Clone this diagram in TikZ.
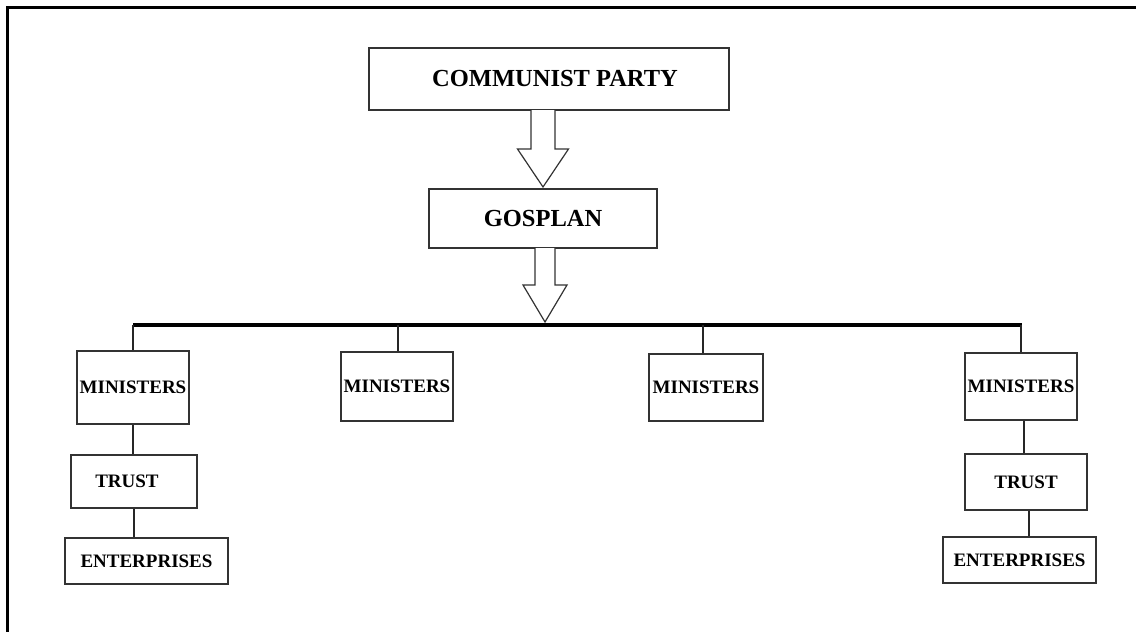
\documentclass[tikz,border=0pt]{standalone}
\usepackage{fontspec}
\setmainfont{Liberation Serif}
\usetikzlibrary{calc}
\tikzset{
  box/.style={draw=black!80, line width=1.3pt, fill=white, inner sep=0pt, font=\bfseries\fontsize{19}{21}\selectfont},
  bigbox/.style={box, font=\bfseries\fontsize{24.5}{27}\selectfont},
  link/.style={draw=black!85, line width=1.4pt},
  bar/.style={draw=black, line width=4pt},
  frame/.style={draw=black, line width=3pt},
  blockarrow/.style={draw=black!80, line width=1.2pt, fill=white, line join=miter}
}
\newcommand\blkarrow[5]{% start, tip, half shaft, half head, head length
  \path[blockarrow] ($(#1)+(-#3,0)$) -- ($(#2)+(-#3,-#5)$) -- ($(#2)+(-#4,-#5)$) -- (#2)
    -- ($(#2)+(#4,-#5)$) -- ($(#2)+(#3,-#5)$) -- ($(#1)+(#3,0)$);
}
\begin{document}
\begin{tikzpicture}[x=1pt,y=-1pt]
\useasboundingbox (0,0) rectangle (1136,632);
% frame (left and top edges)
\coordinate (fBL) at (7,632);
\coordinate (fTL) at (7,7);
\coordinate (fTR) at (1136,7);
\draw[frame] (fBL) -- (fTL) -- (fTR);

% top boxes
\node[bigbox, minimum width=360pt, minimum height=62pt] (cp) at (549,79) {\kern12pt COMMUNIST PARTY};
\node[bigbox, minimum width=228pt, minimum height=59pt] (gos) at (543,218.5) {GOSPLAN};

% bar
\coordinate (barL) at (133,325);
\coordinate (barR) at (1022,325);

% block arrows
\coordinate (a1s) at (543,110);
\coordinate (a1t) at (543,187);
\coordinate (a2s) at (545,248);
\coordinate (a2t) at (545,322);
\blkarrow{a1s}{a1t}{12}{25.5}{38}
\blkarrow{a2s}{a2t}{10}{22}{37}

\draw[bar] (barL) -- (barR);

% ministers
\node[box, minimum width=112pt, minimum height=73pt] (m1) at (133,387.5) {MINISTERS};
\node[box, minimum width=112pt, minimum height=69pt] (m2) at (397,386.5) {MINISTERS};
\node[box, minimum width=114pt, minimum height=67pt] (m3) at (706,387.5) {MINISTERS};
\node[box, minimum width=112pt, minimum height=67pt] (m4) at (1021,386.5) {MINISTERS};

% trusts and enterprises
\node[box, minimum width=126pt, minimum height=53pt] (t1) at (134,481.5) {TRUST\kern14pt};
\node[box, minimum width=163pt, minimum height=46pt] (e1) at (146.5,561) {ENTERPRISES};
\node[box, minimum width=122pt, minimum height=56pt] (t4) at (1026,482) {TRUST};
\node[box, minimum width=153pt, minimum height=46pt] (e4) at (1019.5,560) {ENTERPRISES};

% connectors
\draw[link] (m1.north) -- (m1.north |- barL);
\draw[link] ($(m2.north)+(1,0)$) -- ($(m2.north |- barL)+(1,0)$);
\draw[link] ($(m3.north)+(-3,0)$) -- ($(m3.north |- barL)+(-3,0)$);
\draw[link] (m4.north) -- (m4.north |- barL);
\draw[link] (m1.south) -- (m1.south |- t1.north);
\draw[link] (t1.south) -- (t1.south |- e1.north);
\draw[link] ($(t4.north)+(-2,0)$) -- ($(t4.north |- m4.south)+(-2,0)$);
\draw[link] ($(t4.south)+(3,0)$) -- ($(t4.south |- e4.north)+(3,0)$);
\end{tikzpicture}
\end{document}
